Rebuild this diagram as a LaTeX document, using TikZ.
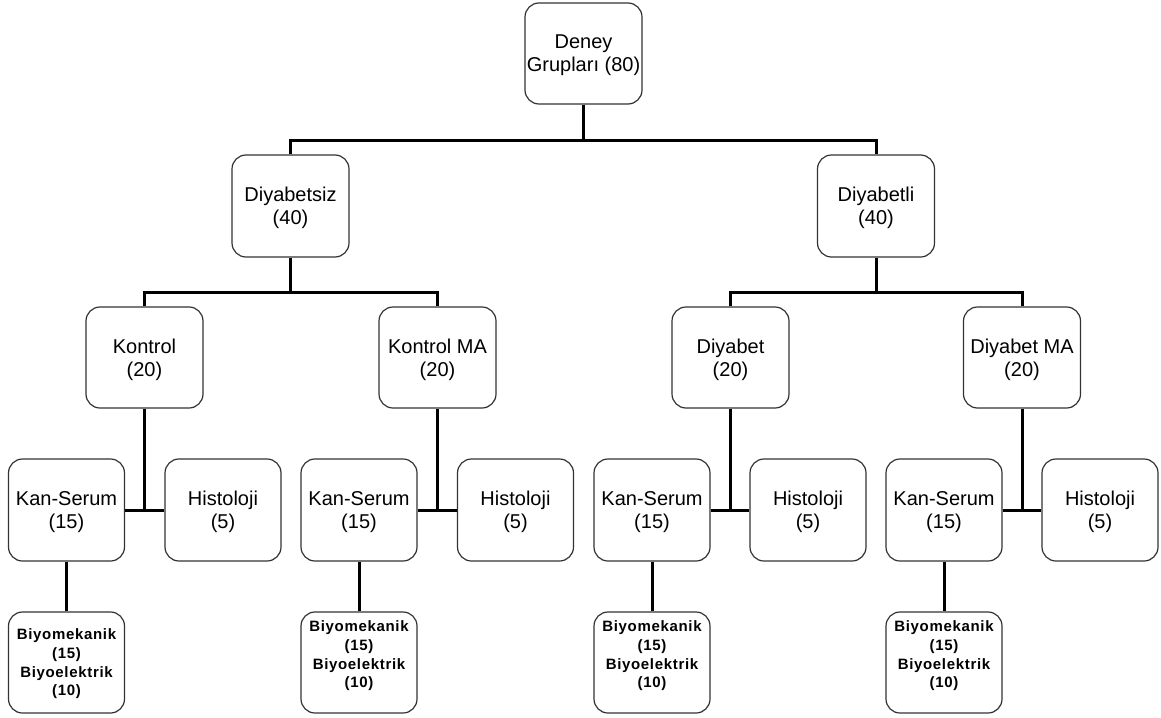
\documentclass[tikz,border=0pt]{standalone}
\usepackage{fontspec}
\setmainfont{Liberation Sans}
\newfontfamily\biyofont[LetterSpace=4.5]{Liberation Sans}
\begin{document}
\begin{tikzpicture}[x=1pt,y=-1pt,
  box/.style={draw=black!80, line width=1.2pt, rounded corners=14pt, fill=white,
    minimum width=117pt, minimum height=102pt, inner sep=0pt, align=center,
    font=\fontsize{20}{23}\selectfont, text depth=-3pt},
  biyo/.style={box, font=\biyofont\bfseries\fontsize{15}{18.7}\selectfont, text depth=-3.8pt},
  biyohigh/.style={biyo, text depth=16pt},
  conn/.style={line width=3pt, draw=black}]
\useasboundingbox (0,0) rectangle (1161,717);
% level 0
\node[box, minimum height=101pt] (root) at (583.5,53.5) {Deney\\Grupları (80)};
% level 1
\node[box] (dsiz) at (290.5,206) {Diyabetsiz\\(40)};
\node[box] (dli) at (876,206) {Diyabetli\\(40)};
% level 2
\node[box, minimum height=101pt] (kon) at (144.5,357.5) {Kontrol\\(20)};
\node[box, minimum height=101pt] (konma) at (437.5,357.5) {Kontrol MA\\(20)};
\node[box, minimum height=101pt] (dyb) at (730.5,357.5) {Diyabet\\(20)};
\node[box, minimum height=101pt] (dybma) at (1022,357.5) {Diyabet MA\\(20)};
% level 3
\node[box, minimum width=116pt] (ks1) at (66.5,510) {Kan-Serum\\(15)};
\node[box, minimum width=116pt] (h1) at (223,510) {Histoloji\\(5)};
\node[box, minimum width=116pt] (ks2) at (359,510) {Kan-Serum\\(15)};
\node[box, minimum width=116pt] (h2) at (515.5,510) {Histoloji\\(5)};
\node[box, minimum width=116pt] (ks3) at (652,510) {Kan-Serum\\(15)};
\node[box, minimum width=116pt] (h3) at (808,510) {Histoloji\\(5)};
\node[box, minimum width=116pt] (ks4) at (944,510) {Kan-Serum\\(15)};
\node[box, minimum width=116pt] (h4) at (1100,510) {Histoloji\\(5)};
% level 4
\node[biyo, minimum width=116pt, minimum height=101pt] (b1) at (66.5,662.5) {Biyomekanik\\(15)\\Biyoelektrik\\(10)};
\node[biyohigh, minimum width=116pt, minimum height=101pt] (b2) at (359,662.5) {Biyomekanik\\(15)\\Biyoelektrik\\(10)};
\node[biyohigh, minimum width=116pt, minimum height=101pt] (b3) at (652,662.5) {Biyomekanik\\(15)\\Biyoelektrik\\(10)};
\node[biyohigh, minimum width=116pt, minimum height=101pt] (b4) at (944,662.5) {Biyomekanik\\(15)\\Biyoelektrik\\(10)};
% connectors level 0-1
\draw[conn] (root.south) -- ++(0,37);
\draw[conn] (dsiz.north) -- ++(0,-14) -| (dli.north);
% level 1-2
\draw[conn] (dsiz.south) -- ++(0,36);
\draw[conn] (kon.north) -- ++(0,-14) -| (konma.north);
\draw[conn] (dli.south) -- ++(0,36);
\draw[conn] (dyb.north) -- ++(0,-14) -| (dybma.north);
% level 2-3
\draw[conn] (kon.south) -- (kon.south |- ks1.east);
\draw[conn] (ks1.east) -- (h1.west);
\draw[conn] (konma.south) -- (konma.south |- ks2.east);
\draw[conn] (ks2.east) -- (h2.west);
\draw[conn] (dyb.south) -- (dyb.south |- ks3.east);
\draw[conn] (ks3.east) -- (h3.west);
\draw[conn] (dybma.south) -- (dybma.south |- ks4.east);
\draw[conn] (ks4.east) -- (h4.west);
% level 3-4
\draw[conn] (ks1.south) -- (b1.north);
\draw[conn] (ks2.south) -- (b2.north);
\draw[conn] (ks3.south) -- (b3.north);
\draw[conn] (ks4.south) -- (b4.north);
\end{tikzpicture}
\end{document}
